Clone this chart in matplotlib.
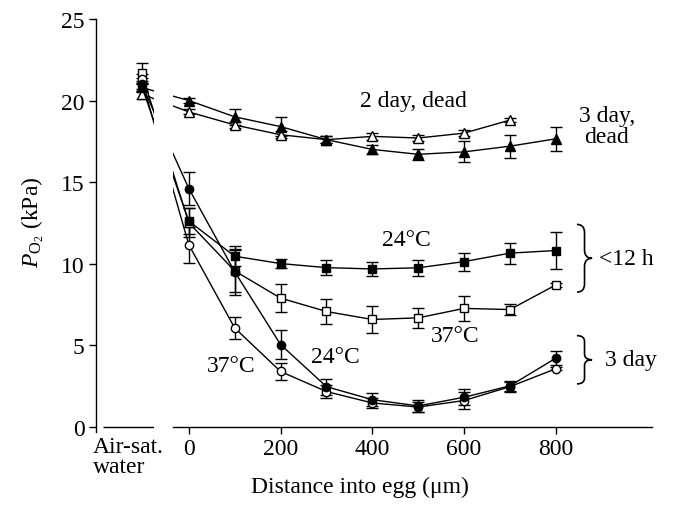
import numpy as np
import matplotlib
matplotlib.use("Agg")
import matplotlib.pyplot as plt
from matplotlib.path import Path
from matplotlib.patches import PathPatch

plt.rcParams['font.family'] = ['Liberation Serif', 'DejaVu Serif']
plt.rcParams['mathtext.fontset'] = 'custom'
plt.rcParams['mathtext.rm'] = 'Liberation Serif'
plt.rcParams['mathtext.it'] = 'Liberation Serif:italic'

# ---- data (kPa) ----
distance = [0, 100, 200, 300, 400, 500, 600, 700, 800]
air_x = -103          # where the "Air-sat. water" readings sit on the axis

# 2 day, dead (open triangles, no 800 um reading)
tri_open = [19.3, 18.5, 17.9, 17.6, 17.8, 17.7, 18.0, 18.8]
tri_open_err = [0.15, 0.2, 0.2, 0.2, 0.2, 0.2, 0.2, 0.1]
tri_open_air = 20.4
tri_open_air_err = 0.3

# 3 day, dead (filled triangles)
tri_fill = [20.0, 19.0, 18.4, 17.6, 17.0, 16.7, 16.85, 17.2, 17.65]
tri_fill_err = [0.15, 0.5, 0.6, 0.2, 0.3, 0.35, 0.65, 0.7, 0.75]
tri_fill_air = 20.8
tri_fill_air_err = 0.3

# <12 h, 24 C (filled squares)
sq_fill = [12.6, 10.45, 10.0, 9.75, 9.67, 9.74, 10.12, 10.64, 10.8]
sq_fill_err = [0.8, 0.6, 0.3, 0.45, 0.45, 0.5, 0.55, 0.65, 1.15]
sq_fill_air = 20.9
sq_fill_air_err = 0.3

# <12 h, 37 C (open squares)
sq_open = [12.5, 9.55, 7.88, 7.06, 6.57, 6.67, 7.25, 7.18, 8.69]
sq_open_err = [0.9, 1.3, 0.85, 0.75, 0.8, 0.6, 0.75, 0.35, 0.1]
sq_open_air = 21.7
sq_open_air_err = 0.6

# 3 day, 24 C (filled circles)
circ_fill = [14.6, 9.5, 5.03, 2.45, 1.65, 1.27, 1.8, 2.5, 4.2]
circ_fill_err = [1.0, 1.4, 0.9, 0.5, 0.4, 0.35, 0.5, 0.3, 0.45]
circ_fill_air = 21.0
circ_fill_air_err = 0.4

# 3 day, 37 C (open circles)
circ_open = [11.15, 6.05, 3.38, 2.15, 1.45, 1.2, 1.6, 2.45, 3.55]
circ_open_err = [1.1, 0.7, 0.55, 0.4, 0.3, 0.3, 0.5, 0.3, 0.1]
circ_open_air = 21.3
circ_open_air_err = 0.3

xtick_vals = [0, 200, 400, 600, 800]
ytick_vals = [0, 5, 10, 15, 20, 25]

FS = 17


def series(ax, vals, errs, air, air_err, marker, filled, ms):
    xs = [air_x] + distance[:len(vals)]
    ys = [air] + list(vals)
    es = [air_err] + list(errs)
    ax.errorbar(xs, ys, yerr=es, color='black', lw=1.0, elinewidth=1.0,
                capsize=4.2, capthick=1.0, marker=marker, ms=ms,
                mfc='black' if filled else 'white', mec='black', mew=1.0,
                zorder=2)


def brace(ax, x, y0, y1, w):
    xm = x + w * 0.5
    xt = x + w
    ym = (y0 + y1) / 2
    r = (y1 - y0) * 0.12
    verts = [(x, y1), (xm, y1), (xm, y1 - r), (xm, ym + r),
             (xm, ym), (xt, ym), (xm, ym), (xm, ym - r),
             (xm, y0 + r), (xm, y0), (x, y0)]
    codes = [Path.MOVETO, Path.CURVE3, Path.CURVE3, Path.LINETO,
             Path.CURVE3, Path.CURVE3, Path.CURVE3, Path.CURVE3,
             Path.LINETO, Path.CURVE3, Path.CURVE3]
    ax.add_patch(PathPatch(Path(verts, codes), fill=False, lw=1.2,
                           ec='black', clip_on=False))


fig = plt.figure(figsize=(6.73, 5.10), dpi=100)
ax = fig.add_axes([0.1422, 0.151, 0.8262, 0.8098])

series(ax, tri_open, tri_open_err, tri_open_air, tri_open_air_err, '^', False, 6.5)
series(ax, tri_fill, tri_fill_err, tri_fill_air, tri_fill_air_err, '^', True, 6.5)
series(ax, sq_open, sq_open_err, sq_open_air, sq_open_air_err, 's', False, 5.5)
series(ax, sq_fill, sq_fill_err, sq_fill_air, sq_fill_air_err, 's', True, 5.5)
series(ax, circ_open, circ_open_err, circ_open_air, circ_open_air_err, 'o', False, 6)
series(ax, circ_fill, circ_fill_err, circ_fill_air, circ_fill_air_err, 'o', True, 6)

# break between the air-saturated reading and the egg profile
ax.axvspan(-76, -35.5, color='white', zorder=2.5, lw=0)

ax.set_xlim(-203, 1009)
ax.set_ylim(-0.33, 25)

for s in ['top', 'right']:
    ax.spines[s].set_visible(False)
ax.spines['left'].set_linewidth(1.0)
ax.spines['bottom'].set_position(('data', 0))
ax.spines['bottom'].set_bounds(-35.5, 1009)
ax.spines['bottom'].set_linewidth(1.0)
ax.plot([-187.6, -76.3], [0, 0], color='black', lw=1.0, clip_on=False,
        solid_capstyle='butt')

ax.set_xticks(xtick_vals)
ax.set_yticks(ytick_vals)
ax.tick_params(direction='out', length=5, width=1.0, labelsize=FS, pad=3)

ax.text(-209, -0.55, 'Air-sat.\nwater', ha='left', va='top', fontsize=FS,
        linespacing=0.95)

ax.set_xlabel('Distance into egg (\u03bcm)', fontsize=FS)
ax.xaxis.set_label_coords(0.475, -0.105)
ax.set_ylabel(r'$P_{\mathrm{O}_2}$ (kPa)', fontsize=FS)
ax.yaxis.set_label_coords(-0.09, 0.51)

ax.text(489, 20.0, '2 day, dead', ha='center', va='center', fontsize=FS)
ax.text(911, 18.45, '3 day,\ndead', ha='center', va='center', fontsize=FS,
        linespacing=1.0)
ax.text(475, 11.47, '24\u00b0C', ha='center', va='center', fontsize=FS)
ax.text(580, 5.58, '37\u00b0C', ha='center', va='center', fontsize=FS)
ax.text(320, 4.32, '24\u00b0C', ha='center', va='center', fontsize=FS)
ax.text(93, 3.74, '37\u00b0C', ha='center', va='center', fontsize=FS)
ax.text(895, 10.33, '<12 h', ha='left', va='center', fontsize=FS)
ax.text(908, 4.09, '3 day', ha='left', va='center', fontsize=FS)

brace(ax, 846, 8.25, 12.4, 33)
brace(ax, 846, 2.62, 5.58, 33)

fig.savefig('out.png', dpi=100)
